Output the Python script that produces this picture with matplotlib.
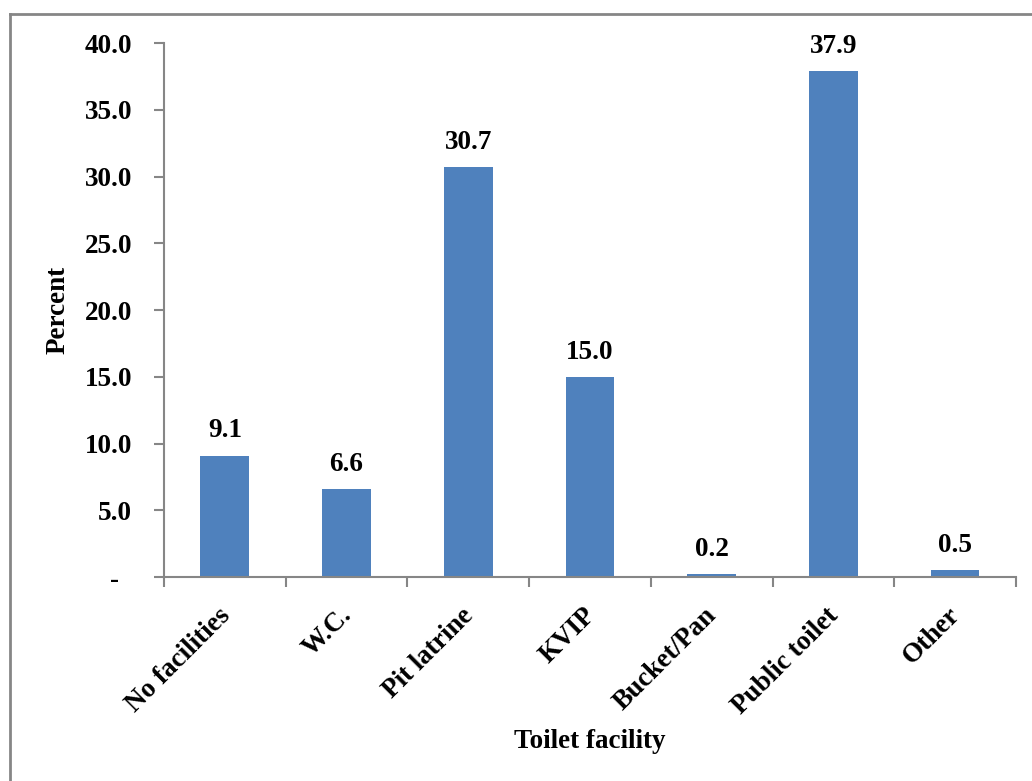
import matplotlib
matplotlib.use("Agg")
import matplotlib.pyplot as plt
from matplotlib.lines import Line2D

categories = ["No facilities", "W.C.", "Pit latrine", "KVIP", "Bucket/Pan", "Public toilet", "Other"]
percent = [9.1, 6.6, 30.7, 15.0, 0.2, 37.9, 0.5]
yticks = [0, 5, 10, 15, 20, 25, 30, 35, 40]
ytick_labels = ["-  ", "5.0", "10.0", "15.0", "20.0", "25.0", "30.0", "35.0", "40.0"]

plt.rcParams["font.family"] = ["Liberation Serif", "DejaVu Serif"]
plt.rcParams["font.weight"] = "bold"

FS = 19.5

fig = plt.figure(figsize=(10.32, 7.81), dpi=100)
ax = fig.add_axes([0.1589, 0.2612, 0.8256, 0.6837])

bar_color = "#4F81BD"
axis_color = "#868686"
x = list(range(len(categories)))
bars = ax.bar(x, percent, width=0.4, color=bar_color, zorder=2)

for xi, v in zip(x, percent):
    ax.annotate(f"{v:.1f}", xy=(xi, v), xytext=(0, 13), textcoords="offset points",
                ha="center", va="baseline", fontsize=FS, fontweight="bold")

ax.set_xlim(-0.5, len(categories) - 0.5)
ax.set_ylim(0, 40)
ax.set_yticks(yticks)
ax.set_yticklabels(ytick_labels, fontsize=FS, fontweight="bold")

# category boundary ticks on the x axis
ax.set_xticks([i - 0.5 for i in range(len(categories) + 1)])
ax.set_xticklabels([])
ax.tick_params(axis="x", direction="out", length=7, color=axis_color, width=1.5)
ax.tick_params(axis="y", direction="out", length=7, color=axis_color, width=1.5, pad=16)

for xi, name in zip(x, categories):
    ax.annotate(name, xy=(xi, 0), xycoords=("data", "axes fraction"),
                xytext=(1, -25), textcoords="offset points",
                rotation=45, rotation_mode="anchor", ha="right", va="center",
                fontsize=FS, fontweight="bold")

for side in ("top", "right"):
    ax.spines[side].set_visible(False)
for side in ("left", "bottom"):
    ax.spines[side].set_color(axis_color)
    ax.spines[side].set_linewidth(1.5)

ax.set_ylabel("Percent", fontsize=FS, fontweight="bold", labelpad=10)
fig.text(0.5717, 0.051, "Toilet facility", ha="center", va="center",
         fontsize=FS, fontweight="bold")

# outer frame of the chart area
fw, fh = 1032, 781
fig.add_artist(Line2D([10 / fw, 10 / fw], [0, 1 - 14 / fh], transform=fig.transFigure,
                      color=axis_color, linewidth=2))
fig.add_artist(Line2D([10 / fw, 1], [1 - 14 / fh, 1 - 14 / fh], transform=fig.transFigure,
                      color=axis_color, linewidth=2))

fig.savefig("out.png", dpi=100, facecolor="white")
